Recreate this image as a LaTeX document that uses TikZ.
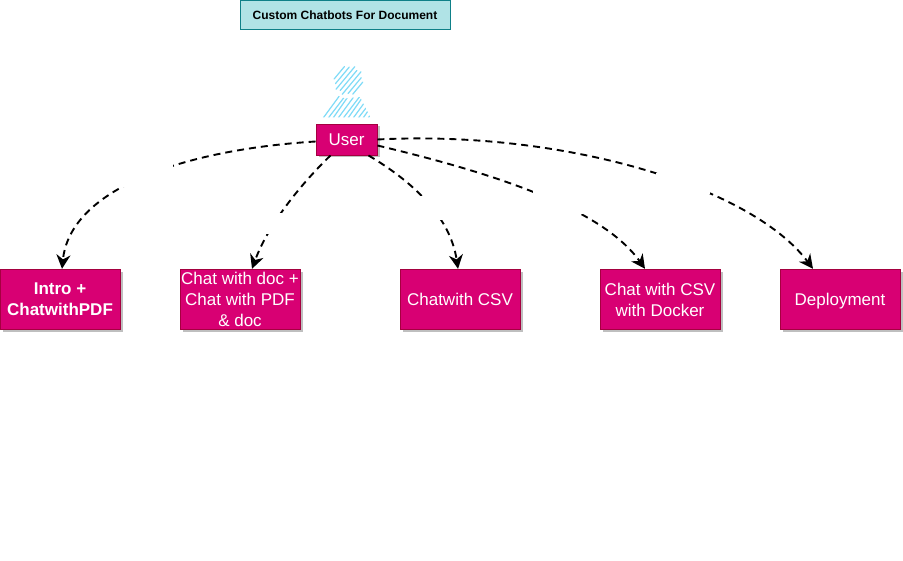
\documentclass[tikz,border=0pt]{standalone}
\usepackage{fontspec}
\setmainfont{Liberation Sans}
\usetikzlibrary{arrows.meta,shadows}
\definecolor{pinkfill}{HTML}{D80073}
\definecolor{pinkline}{HTML}{A50040}
\definecolor{titlefill}{HTML}{B0E3E6}
\definecolor{titleline}{HTML}{0E8088}
\definecolor{hatch}{HTML}{7FDBF7}
\tikzset{
  x=1pt,y=-1pt,
  pinkbox/.style={draw=pinkline,fill=pinkfill,text=white,line width=0.9pt,minimum width=120pt,minimum height=60.5pt,
    inner sep=0pt,align=center,font=\fontsize{17}{21}\selectfont,
    general shadow={fill=black!25,shadow xshift=2.5pt,shadow yshift=-2.5pt}},
  titlebox/.style={draw=titleline,fill=titlefill,text=black,line width=0.9pt,minimum width=210pt,minimum height=29.5pt,inner sep=0pt,font=\fontsize{12}{14}\selectfont},
  flow/.style={draw=black,line width=1.9pt,dash pattern=on 7pt off 5pt,-{Stealth[length=14pt,width=14pt,inset=4.5pt]}},
  gap/.style={fill=white,inner sep=0pt},
  hatchline/.style={draw=hatch,line width=1.2pt,line cap=round}
}
\begin{document}
\begin{tikzpicture}
\useasboundingbox (0,0) rectangle (903,561);
\fill[white] (0,0) rectangle (903,561);
\node[titlebox] (title) at (345,15) {\textbf{Custom Chatbots For Document}};
% user icon: head
\foreach \t/\j in {-12/0.8,-8/-0.8,-4/1.2,0/-1,4/1.2,8/-1.2,12/0.6}{
  \pgfmathsetmacro\h{sqrt(196-\t*\t)+\j}
  \draw[hatchline,shift={(348.5,80.5)}] (\t*0.77-\h*0.64,\t*0.64+\h*0.77) -- (\t*0.77+\h*0.64,\t*0.64-\h*0.77);
}
% user icon: body
\begin{scope}
 \clip (322.5,117.5) -- (336,95) -- (345,98.5) -- (360,97) -- (370.5,117.5) -- cycle;
 \foreach \i/\d in {0/0,5/1,10/-1,15/0,20/1,25/-1,30/0,35/1,40/-1,45/0,50/1,55/-1,60/0,65/1,70/-1}
   \draw[hatchline] (306+\i,121) -- (306+\i+\d+22,91);
\end{scope}
\node[pinkbox,minimum width=61pt,minimum height=31pt] (user) at (346.5,139.5) {User};
\node[pinkbox,font=\fontsize{17}{21}\selectfont\bfseries] (intro) at (60,299.5) {Intro +\\ChatwithPDF};
\node[pinkbox] (doc) at (240,299.5) {Chat with doc +\\Chat with PDF\\\& doc};
\node[pinkbox] (csv) at (460,299.5) {Chatwith CSV};
\node[pinkbox] (docker) at (660,299.5) {Chat with CSV\\with Docker};
\node[pinkbox] (deploy) at (840,299.5) {\raisebox{-6pt}[0pt][0pt]{Deployment}};
% connectors
\draw[flow] ([yshift=-2pt]user.west) .. controls (180,150) and (70,190) .. ([xshift=2pt]intro.north);
\draw[flow] ([xshift=-16pt]user.south) .. controls (300,185) and (268,225) .. ([xshift=12pt]doc.north);
\draw[flow] ([xshift=22pt]user.south) .. controls (410,180) and (450,215) .. ([xshift=-2pt]csv.north);
\draw[flow] ([yshift=-6pt]user.east) .. controls (480,170) and (600,205) .. ([xshift=-15pt]docker.north);
\draw[flow] (user.east) .. controls (560,130) and (750,185) .. ([xshift=-27pt]deploy.north);
% empty label backgrounds
\node[gap,minimum width=53pt,minimum height=25pt] (g1) at (146.5,175) {};
\node[gap,minimum width=16pt,minimum height=21pt] (g2) at (274,223.5) {};
\node[gap,minimum width=26pt,minimum height=24pt] (g3) at (430,208) {};
\node[gap,minimum width=50pt,minimum height=24pt] (g4) at (558,202) {};
\node[gap,minimum width=54pt,minimum height=21pt] (g5) at (683,183.5) {};
\end{tikzpicture}
\end{document}
